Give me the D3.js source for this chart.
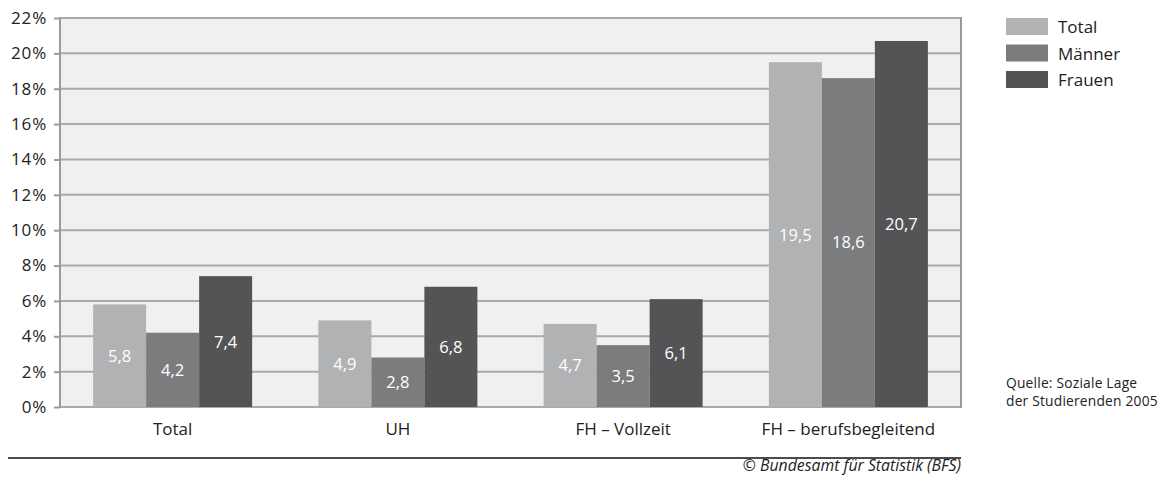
<!DOCTYPE html>
<html>
<head>
<meta charset="utf-8">
<script src="https://cdn.jsdelivr.net/npm/d3@7"></script>
<style>
  body { margin: 0; background: #fff; }
  svg { display: block; font-family: "Open Sans", "DejaVu Sans", sans-serif; }
</style>
</head>
<body>
<div id="chart"></div>
<script>
const categories = ["Total", "UH", "FH – Vollzeit", "FH – berufsbegleitend"];
const seriesNames = ["Total", "Männer", "Frauen"];
const totalValues = [5.8, 4.9, 4.7, 19.5];
const maennerValues = [4.2, 2.8, 3.5, 18.6];
const frauenValues = [7.4, 6.8, 6.1, 20.7];
const yTicks = [0, 2, 4, 6, 8, 10, 12, 14, 16, 18, 20, 22];
const sourceLines = ["Quelle: Soziale Lage", "der Studierenden 2005"];

const colors = ["#b1b2b4", "#7b7c7e", "#545456"];
const width = 1165, height = 479;
const margin = { top: 18, right: 204, bottom: 72, left: 60 };

const data = categories.map((c, i) => ({
  category: c,
  values: [totalValues[i], maennerValues[i], frauenValues[i]]
}));

const svg = d3.select("#chart").append("svg")
  .attr("width", width)
  .attr("height", height);

const x0 = d3.scaleBand()
  .domain(categories)
  .range([margin.left, width - margin.right])
  .paddingInner(0.294)
  .paddingOuter(0.147);

const x1 = d3.scaleBand()
  .domain(seriesNames)
  .range([0, x0.bandwidth()]);

const y = d3.scaleLinear()
  .domain([0, 22])
  .range([height - margin.bottom, margin.top]);

// plot background
svg.append("rect")
  .attr("x", margin.left)
  .attr("y", margin.top)
  .attr("width", width - margin.right - margin.left)
  .attr("height", y(0) - margin.top)
  .attr("fill", "#eff0ef");

// grid lines
svg.append("g")
  .selectAll("line")
  .data(yTicks)
  .join("line")
  .attr("x1", margin.left)
  .attr("x2", width - margin.right)
  .attr("y1", (d) => y(d))
  .attr("y2", (d) => y(d))
  .attr("stroke", "#a9aaaa")
  .attr("stroke-width", 2);

// bars
const groups = svg.append("g")
  .selectAll("g")
  .data(data)
  .join("g")
  .attr("transform", (d) => `translate(${x0(d.category)},0)`);

groups.selectAll("rect")
  .data((d) => d.values.map((v, j) => ({ name: seriesNames[j], value: v, j })))
  .join("rect")
  .attr("x", (d) => x1(d.name))
  .attr("width", x1.bandwidth())
  .attr("y", (d) => y(d.value))
  .attr("height", (d) => y(0) - y(d.value))
  .attr("fill", (d) => colors[d.j]);

groups.selectAll("text")
  .data((d) => d.values.map((v, j) => ({ name: seriesNames[j], value: v })))
  .join("text")
  .attr("x", (d) => x1(d.name) + x1.bandwidth() / 2)
  .attr("y", (d) => (y(d.value) + y(0)) / 2)
  .attr("dy", "0.36em")
  .attr("text-anchor", "middle")
  .attr("fill", "#fff")
  .style("font-size", "16.5px")
  .text((d) => d.value.toFixed(1).replace(".", ","));

// frame: left and right lines
const frame = svg.append("g").attr("stroke", "#999a9a").attr("stroke-width", 2);
frame.append("line")
  .attr("x1", margin.left).attr("x2", margin.left)
  .attr("y1", margin.top - 1).attr("y2", y(0) + 1);
frame.append("line")
  .attr("x1", width - margin.right).attr("x2", width - margin.right)
  .attr("y1", margin.top - 1).attr("y2", y(0) + 1);

// y axis
const yAxis = d3.axisLeft(y)
  .tickValues(yTicks)
  .tickSize(6)
  .tickFormat((d) => d + "%");

svg.append("g")
  .attr("transform", `translate(${margin.left},0)`)
  .call(yAxis)
  .call((g) => g.select(".domain").remove())
  .call((g) => g.selectAll(".tick line").attr("stroke", "#999a9a").attr("stroke-width", 2))
  .call((g) => g.selectAll(".tick text")
    .attr("x", -13)
    .attr("fill", "#222")
    .style("font-size", "17px")
    .style("letter-spacing", "0.8px")
    .style("font-family", "'Open Sans', sans-serif"));

// x axis labels
const xAxis = d3.axisBottom(x0).tickSize(0);
svg.append("g")
  .attr("transform", `translate(0,${y(0)})`)
  .call(xAxis)
  .call((g) => g.select(".domain").remove())
  .call((g) => g.selectAll(".tick text")
    .attr("y", 16)
    .attr("fill", "#222")
    .style("font-size", "17px")
    .style("font-family", "'Open Sans', sans-serif"));

// legend
const legend = svg.append("g")
  .attr("transform", "translate(1006,18)");

seriesNames.forEach((name, i) => {
  const g = legend.append("g").attr("transform", `translate(0,${i * 26.5})`);
  g.append("rect")
    .attr("width", 42)
    .attr("height", 17)
    .attr("fill", colors[i]);
  g.append("text")
    .attr("x", 52)
    .attr("y", 9)
    .attr("dy", "0.36em")
    .attr("fill", "#222")
    .style("font-size", "17px")
    .text(name);
});

// source note
svg.append("g")
  .selectAll("text")
  .data(sourceLines)
  .join("text")
  .attr("x", 1006)
  .attr("y", (d, i) => 387.5 + i * 18.5)
  .attr("fill", "#222")
  .style("font-size", "13.8px")
  .style("letter-spacing", "0.2px")
  .text((d) => d);

// footer line and copyright
svg.append("line")
  .attr("x1", 8)
  .attr("x2", width - margin.right)
  .attr("y1", 458)
  .attr("y2", 458)
  .attr("stroke", "#111")
  .attr("stroke-width", 1.5);

svg.append("text")
  .attr("x", width - margin.right)
  .attr("y", 471)
  .attr("text-anchor", "end")
  .attr("fill", "#222")
  .style("font-size", "15.8px")
  .style("font-style", "italic")
  .text("© Bundesamt für Statistik (BFS)");
</script>
</body>
</html>
